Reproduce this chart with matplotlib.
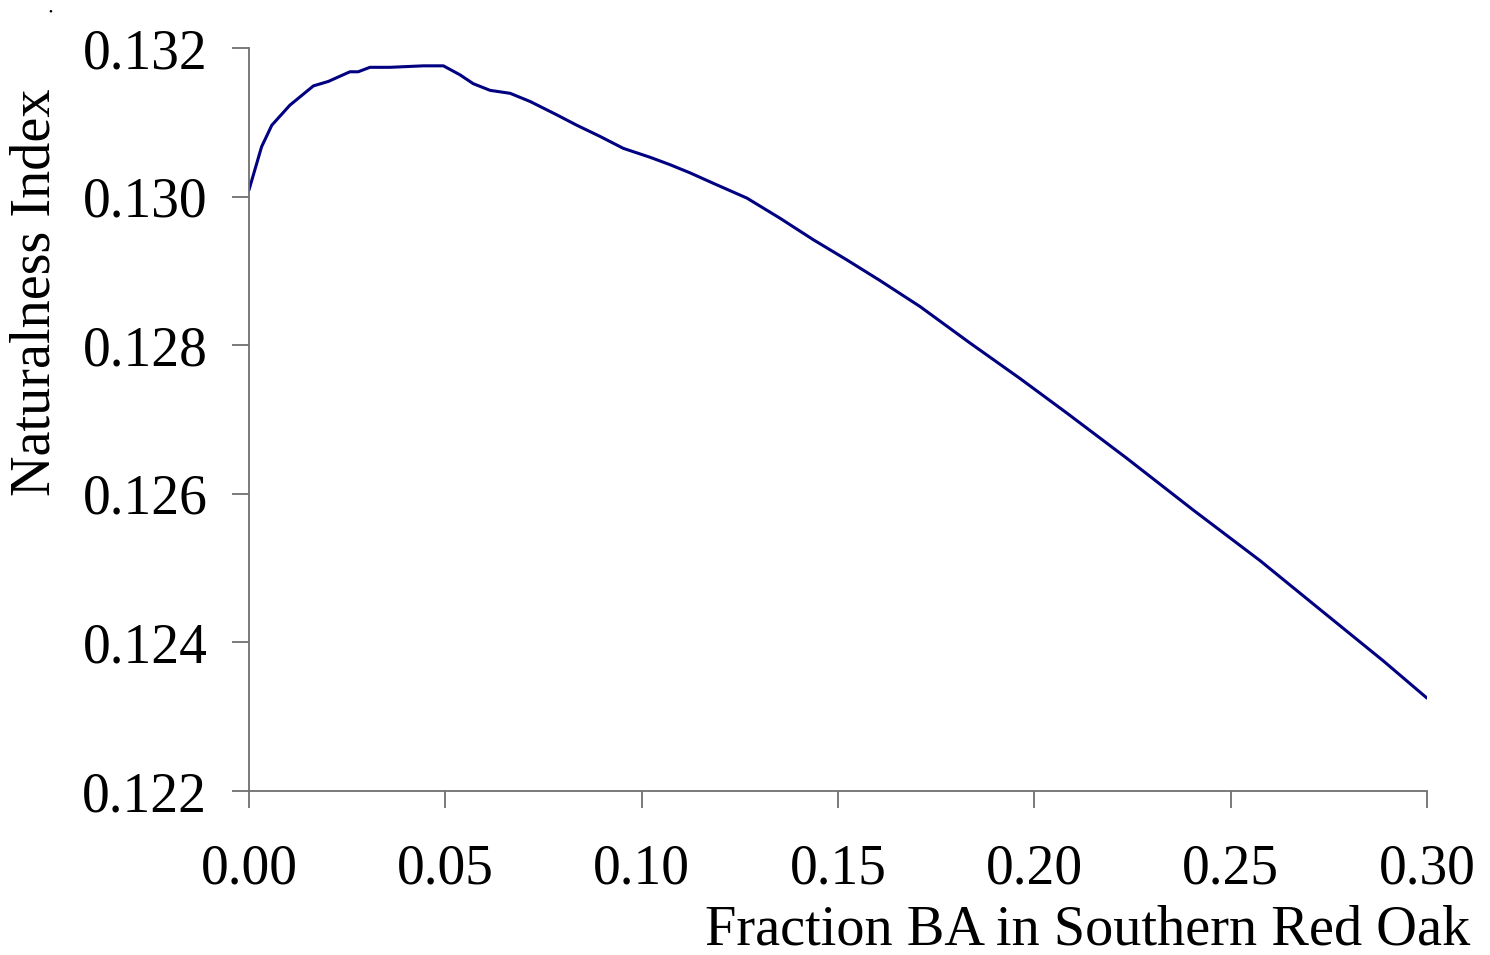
import matplotlib
matplotlib.use("Agg")
import matplotlib.pyplot as plt

# Data
fraction_ba = [0.0, 0.0032, 0.0058, 0.0104, 0.0164, 0.0202, 0.0257, 0.0278, 0.0308,
               0.0359, 0.0444, 0.0495, 0.0537, 0.0571, 0.0614, 0.0665, 0.0716, 0.0784,
               0.0835, 0.0894, 0.0953, 0.1021, 0.1072, 0.1123, 0.1182, 0.1268, 0.1352,
               0.1437, 0.1522, 0.1607, 0.1709, 0.1836, 0.1964, 0.2082, 0.2235, 0.2405,
               0.2575, 0.2719, 0.2889, 0.3000]
naturalness = [0.13009, 0.13067, 0.13096, 0.13123, 0.13149, 0.13155, 0.13168, 0.13168,
               0.13174, 0.13174, 0.13176, 0.13176, 0.13164, 0.13152, 0.13143, 0.13139,
               0.13128, 0.13110, 0.13096, 0.13081, 0.13065, 0.13053, 0.13043, 0.13032,
               0.13018, 0.12998, 0.12971, 0.12942, 0.12915, 0.12887, 0.12852, 0.12803,
               0.12755, 0.12709, 0.12648, 0.12578, 0.12510, 0.12448, 0.12375, 0.12325]

x_ticks = [0.00, 0.05, 0.10, 0.15, 0.20, 0.25, 0.30]
x_tick_labels = ["0.00", "0.05", "0.10", "0.15", "0.20", "0.25", "0.30"]
y_ticks = [0.122, 0.124, 0.126, 0.128, 0.130, 0.132]
y_tick_labels = ["0.122", "0.124", "0.126", "0.128", "0.130", "0.132"]

plt.rcParams['font.family'] = ['Liberation Serif', 'DejaVu Serif']

W, H = 1490, 955
fig = plt.figure(figsize=(W / 100, H / 100), dpi=100)
ax = fig.add_axes([249 / W, 1 - 791 / H, (1427 - 249) / W, (791 - 48) / H])

ax.plot(fraction_ba, naturalness, color='#000080', linewidth=2.2,
        solid_joinstyle='round', solid_capstyle='round')

ax.set_xlim(0, 0.30)
ax.set_ylim(0.122, 0.132)
ax.set_xticks(x_ticks)
ax.set_xticklabels(x_tick_labels)
ax.set_yticks(y_ticks)
ax.set_yticklabels(y_tick_labels)

for s in ['top', 'right']:
    ax.spines[s].set_visible(False)
for s in ['left', 'bottom']:
    ax.spines[s].set_color('#707070')
    ax.spines[s].set_linewidth(1.3)

ax.tick_params(axis='both', colors='#707070', labelcolor='black', width=1.3,
               length=12, labelsize=40, direction='out')
ax.tick_params(axis='x', pad=26)
ax.tick_params(axis='y', pad=18)

fig.text(1470 / W, 1 - 930 / H, "Fraction BA in Southern Red Oak", ha='right', va='center',
         fontsize=40.6)
fig.text(36 / W, 1 - 292 / H, "Naturalness Index", ha='center', va='center',
         rotation=90, fontsize=40.5)
fig.text(50 / W, 1 - 12 / H, "\u2022", ha='center', va='center', fontsize=8)

fig.savefig("out.png", dpi=100, facecolor='white')
